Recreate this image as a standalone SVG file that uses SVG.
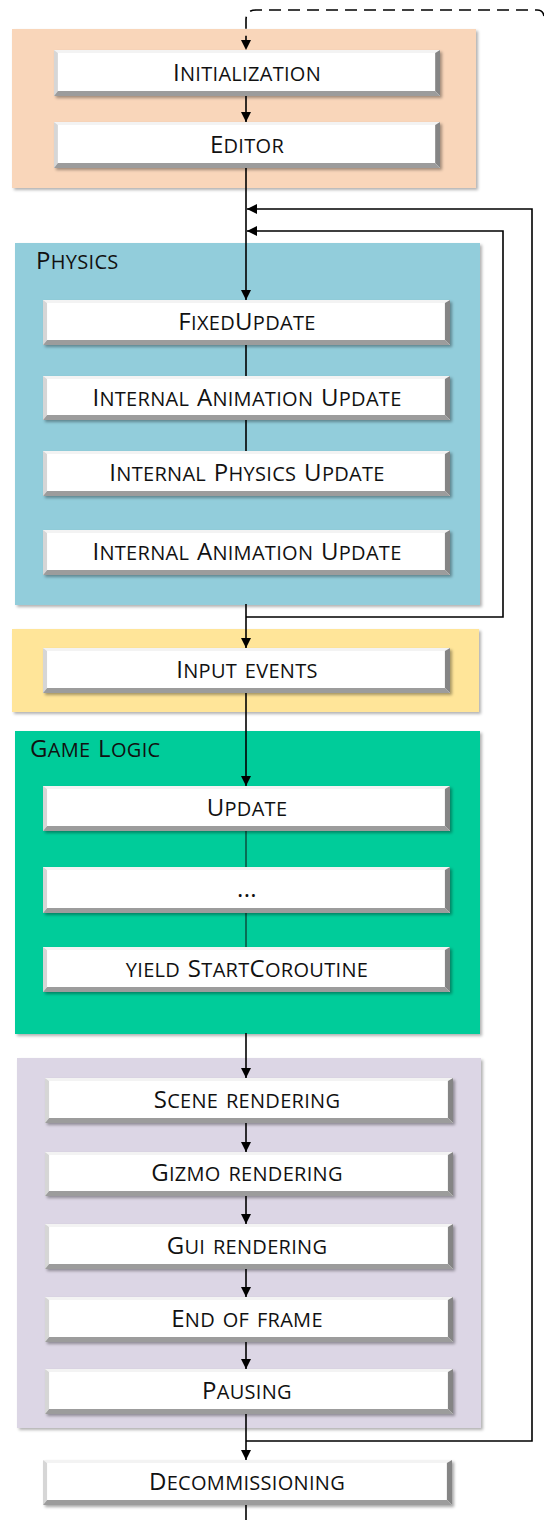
<svg xmlns="http://www.w3.org/2000/svg" xmlns:xlink="http://www.w3.org/1999/xlink" width="544" height="1520" viewBox="0 0 544 1520">
  <style>
    .lbl { font-family: "Open Sans", "Noto Sans", "Liberation Sans", sans-serif; font-size: 24px; font-variant: small-caps; letter-spacing: 0.3px; fill: #111; }
    .lbl .s { font-size: 28.5px; }
    .node-text { text-anchor: middle; }
    .wire { fill: none; stroke: #000; stroke-width: 1.6; }
    .thin { fill: none; stroke: #111; stroke-width: 1; }
    .dash { fill: none; stroke: #000; stroke-width: 1.6; stroke-dasharray: 12 7; }
    .panel { filter: url(#panelShadow); }
    .btn { filter: url(#btnShadow); }
  </style>
  <defs>
    <filter id="panelShadow" x="-5%" y="-5%" width="110%" height="110%">
      <feDropShadow dx="2" dy="2" stdDeviation="1.6" flood-color="#000" flood-opacity="0.3"/>
    </filter>
    <filter id="btnShadow" x="-5%" y="-10%" width="110%" height="130%">
      <feDropShadow dx="2" dy="2" stdDeviation="1.5" flood-color="#000" flood-opacity="0.35"/>
    </filter>
    <!-- bevelled white step box -->
    <symbol id="btn" viewBox="0 0 400 45" preserveAspectRatio="none">
      <rect x="0" y="0" width="400" height="45" fill="#ffffff"/>
      <polygon points="0,0 400,0 395,3 4,3" fill="#f3f3f3"/>
      <polygon points="0,0 4,3 4,40 0,45" fill="#d6d6d6"/>
      <polygon points="400,0 400,45 395,40 395,3" fill="#858585"/>
      <polygon points="0,45 400,45 395,40 4,40" fill="#9c9c9c"/>
    </symbol>
    <marker id="arrow" markerUnits="userSpaceOnUse" markerWidth="10" markerHeight="10" refX="10" refY="5" orient="auto">
      <path d="M0,0 L10,5 L0,10 Z" fill="#000"/>
    </marker>
  </defs>

  <rect width="544" height="1520" fill="#ffffff"/>

  <!-- stage panels -->
  <g id="grp-startup">
    <rect class="panel" x="12" y="29" width="464" height="159" fill="#F9D6BA"/>
  </g>
  <g id="grp-physics">
    <rect class="panel" x="15" y="243" width="465" height="362" fill="#92CDDB"/>
    <text class="lbl" x="36" y="269">P<tspan class="s">hysics</tspan></text>
  </g>
  <g id="grp-input">
    <rect class="panel" x="12" y="629" width="467" height="83" fill="#FFE599"/>
  </g>
  <g id="grp-gamelogic">
    <rect class="panel" x="15" y="731" width="465" height="303" fill="#00CC9A"/>
    <text class="lbl" x="30" y="757">G<tspan class="s">ame </tspan>L<tspan class="s">ogic</tspan></text>
  </g>
  <g id="grp-rendering">
    <rect class="panel" x="17" y="1058" width="464" height="370" fill="#DCD6E5"/>
  </g>

  <!-- connectors -->
  <g id="connectors">
    <path class="dash" d="M544,16 Q543,10 537,10 H256 Q246,10 246,20 V50" marker-end="url(#arrow)"/>
    <path class="wire" d="M246,96 V122" marker-end="url(#arrow)"/>
    <path class="wire" d="M246,168 V300" marker-end="url(#arrow)"/>
    <path class="wire" d="M246,345 V376"/>
    <path class="wire" d="M246,420 V451"/>
    <path class="wire" d="M246,604 V648" marker-end="url(#arrow)"/>
    <path class="wire" d="M246,617 H503 V231 H247" marker-end="url(#arrow)"/>
    <path class="wire" d="M246,693 V786" marker-end="url(#arrow)"/>
    <path class="thin" d="M246,831 V867"/>
    <path class="thin" d="M246,913 V947"/>
    <path class="wire" d="M246,1033 V1078" marker-end="url(#arrow)"/>
    <path class="wire" d="M246,1123 V1152" marker-end="url(#arrow)"/>
    <path class="wire" d="M246,1196 V1224" marker-end="url(#arrow)"/>
    <path class="wire" d="M246,1269 V1297" marker-end="url(#arrow)"/>
    <path class="wire" d="M246,1342 V1369" marker-end="url(#arrow)"/>
    <path class="wire" d="M246,1414 V1460" marker-end="url(#arrow)"/>
    <path class="wire" d="M246,1441 H532 V209 H247" marker-end="url(#arrow)"/>
    <path class="wire" d="M246,1505 V1520"/>
  </g>

  <!-- steps -->
  <g id="n-initialization">
    <use class="btn" href="#btn" x="54" y="50" width="386" height="46"/>
    <text class="lbl node-text" x="247" y="81">I<tspan class="s">nitialization</tspan></text>
  </g>
  <g id="n-editor">
    <use class="btn" href="#btn" x="54" y="122" width="386" height="46"/>
    <text class="lbl node-text" x="247" y="153">E<tspan class="s">ditor</tspan></text>
  </g>
  <g id="n-fixedupdate">
    <use class="btn" href="#btn" x="43" y="300" width="407" height="45"/>
    <text class="lbl node-text" x="247" y="330">F<tspan class="s">ixed</tspan>U<tspan class="s">pdate</tspan></text>
  </g>
  <g id="n-anim1">
    <use class="btn" href="#btn" x="43" y="376" width="407" height="44"/>
    <text class="lbl node-text" x="247" y="406">I<tspan class="s">nternal </tspan>A<tspan class="s">nimation </tspan>U<tspan class="s">pdate</tspan></text>
  </g>
  <g id="n-physics">
    <use class="btn" href="#btn" x="43" y="451" width="407" height="45"/>
    <text class="lbl node-text" x="247" y="481">I<tspan class="s">nternal </tspan>P<tspan class="s">hysics </tspan>U<tspan class="s">pdate</tspan></text>
  </g>
  <g id="n-anim2">
    <use class="btn" href="#btn" x="43" y="530" width="407" height="45"/>
    <text class="lbl node-text" x="247" y="560">I<tspan class="s">nternal </tspan>A<tspan class="s">nimation </tspan>U<tspan class="s">pdate</tspan></text>
  </g>
  <g id="n-input">
    <use class="btn" href="#btn" x="43" y="648" width="407" height="45"/>
    <text class="lbl node-text" x="247" y="678">I<tspan class="s">nput events</tspan></text>
  </g>
  <g id="n-update">
    <use class="btn" href="#btn" x="43" y="786" width="407" height="45"/>
    <text class="lbl node-text" x="247" y="816">U<tspan class="s">pdate</tspan></text>
  </g>
  <g id="n-ellipsis">
    <use class="btn" href="#btn" x="43" y="867" width="407" height="46"/>
    <text class="lbl node-text" x="247" y="897">...</text>
  </g>
  <g id="n-coroutine">
    <use class="btn" href="#btn" x="43" y="947" width="407" height="45"/>
    <text class="lbl node-text" x="247" y="977"><tspan class="s">yield </tspan>S<tspan class="s">tart</tspan>C<tspan class="s">oroutine</tspan></text>
  </g>
  <g id="n-scene">
    <use class="btn" href="#btn" x="45" y="1078" width="408" height="45"/>
    <text class="lbl node-text" x="247" y="1108">S<tspan class="s">cene rendering</tspan></text>
  </g>
  <g id="n-gizmo">
    <use class="btn" href="#btn" x="45" y="1152" width="408" height="44"/>
    <text class="lbl node-text" x="247" y="1181">G<tspan class="s">izmo rendering</tspan></text>
  </g>
  <g id="n-gui">
    <use class="btn" href="#btn" x="45" y="1224" width="408" height="45"/>
    <text class="lbl node-text" x="247" y="1254">G<tspan class="s">ui rendering</tspan></text>
  </g>
  <g id="n-endframe">
    <use class="btn" href="#btn" x="45" y="1297" width="408" height="45"/>
    <text class="lbl node-text" x="247" y="1327">E<tspan class="s">nd of frame</tspan></text>
  </g>
  <g id="n-pausing">
    <use class="btn" href="#btn" x="45" y="1369" width="408" height="45"/>
    <text class="lbl node-text" x="247" y="1399">P<tspan class="s">ausing</tspan></text>
  </g>
  <g id="n-decommissioning">
    <use class="btn" href="#btn" x="43" y="1460" width="409" height="45"/>
    <text class="lbl node-text" x="247" y="1490">D<tspan class="s">ecommissioning</tspan></text>
  </g>
</svg>
